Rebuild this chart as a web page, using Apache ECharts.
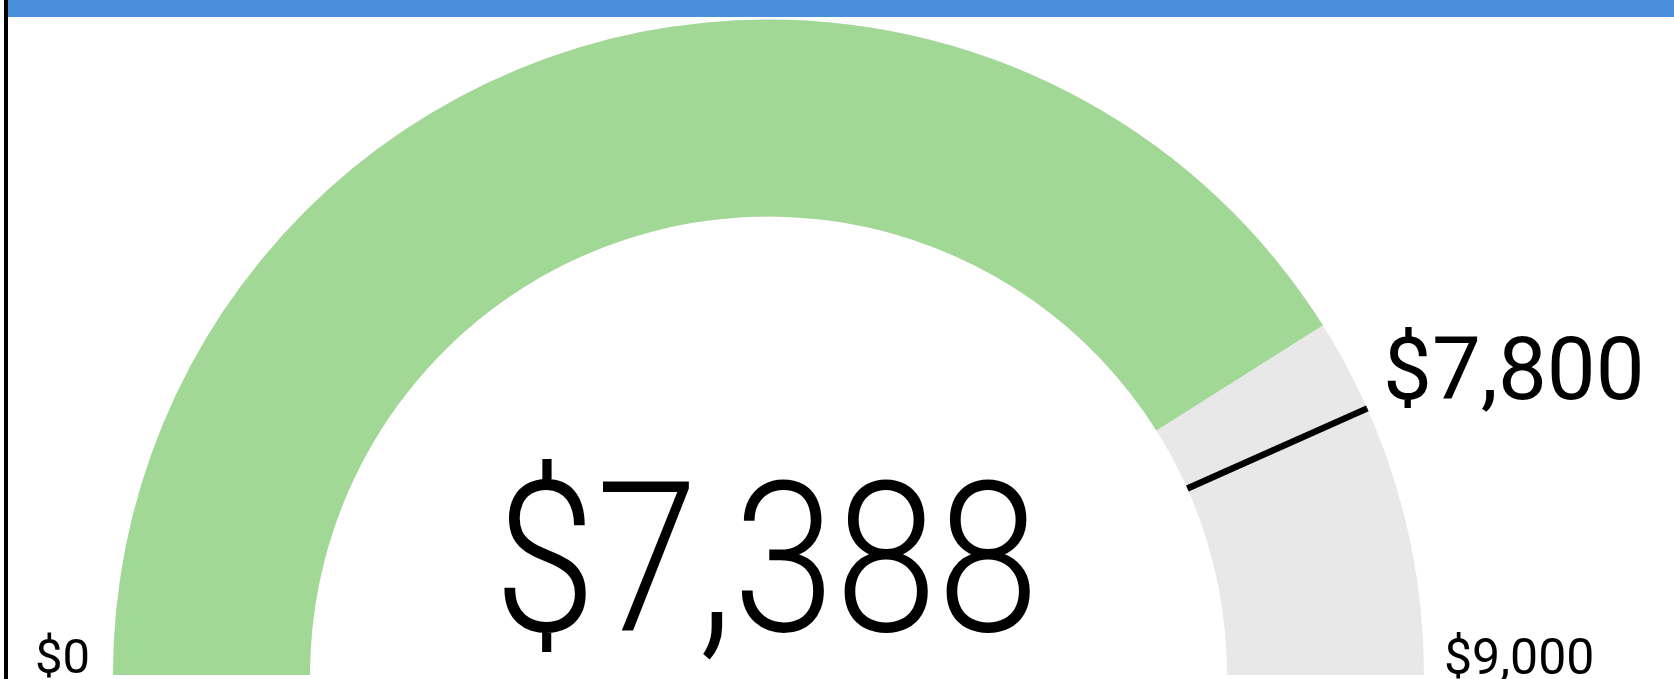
<!DOCTYPE html>
<html>
<head>
<meta charset="utf-8">
<script src="https://cdn.jsdelivr.net/npm/echarts@6/dist/echarts.min.js"></script>
<style>
html,body{margin:0;padding:0;background:#fff;}
#chart{width:1674px;height:679px;}
</style>
</head>
<body>
<div id="chart"></div>
<script>
// ---- data ----
const scaleMin = 0;
const scaleMax = 9000;
const actualValue = [7388];
const targetValue = [7800];
const currency = '$';

function fmt(v) { return currency + v.toLocaleString('en-US'); }

const GREEN = '#a2d895';
const GRAY = '#e8e8e8';
const CX = 768.5, CY = 675, R_OUT = 655.5, BAND = 197;

const chart = echarts.init(document.getElementById('chart'), null, {renderer: 'canvas'});

const baseGauge = {
  type: 'gauge',
  center: [CX, CY],
  radius: R_OUT,
  startAngle: 180,
  endAngle: 0,
  min: scaleMin,
  max: scaleMax,
  splitLine: {show: false},
  axisTick: {show: false},
  axisLabel: {show: false},
  title: {show: false},
  detail: {show: false},
  animation: false
};

chart.setOption({
  animation: false,
  series: [
    Object.assign({}, baseGauge, {
      axisLine: {lineStyle: {width: BAND, color: [[1, GRAY]]}},
      progress: {show: true, width: BAND, roundCap: false, itemStyle: {color: GREEN}},
      pointer: {show: false},
      data: actualValue.map(v => ({value: v}))
    }),
    Object.assign({}, baseGauge, {
      z: 5,
      axisLine: {show: false},
      progress: {show: false},
      pointer: {
        show: true,
        icon: 'rect',
        width: 6.5,
        length: BAND,
        offsetCenter: [0, -(R_OUT - BAND)],
        itemStyle: {color: '#000'}
      },
      anchor: {show: false},
      data: targetValue.map(v => ({value: v}))
    })
  ],
  graphic: [
    {type: 'rect', shape: {x: 8, y: 0, width: 1666, height: 17}, style: {fill: '#4a8fdc'}, z: 10},
    {type: 'rect', shape: {x: 4, y: 0, width: 4, height: 679}, style: {fill: '#000'}, z: 10},
    {
      type: 'text', x: 494, y: 578, scaleX: 0.875, z: 10,
      style: {text: fmt(actualValue[0]), x: 0, y: 0, fill: '#000',
        font: '300 210px Roboto', align: 'left', verticalAlign: 'middle'}
    },
    {
      type: 'text', x: 1383, y: 377, z: 10,
      style: {text: fmt(targetValue[0]), fill: '#000',
        font: '87px Roboto', align: 'left', verticalAlign: 'middle'}
    },
    {
      type: 'text', x: 35, y: 661, z: 10,
      style: {text: fmt(scaleMin), fill: '#000',
        font: '49px Roboto', align: 'left', verticalAlign: 'middle'}
    },
    {
      type: 'text', x: 1444, y: 661, z: 10,
      style: {text: fmt(scaleMax), fill: '#000',
        font: '50px Roboto', align: 'left', verticalAlign: 'middle'}
    }
  ]
});
</script>
</body>
</html>
